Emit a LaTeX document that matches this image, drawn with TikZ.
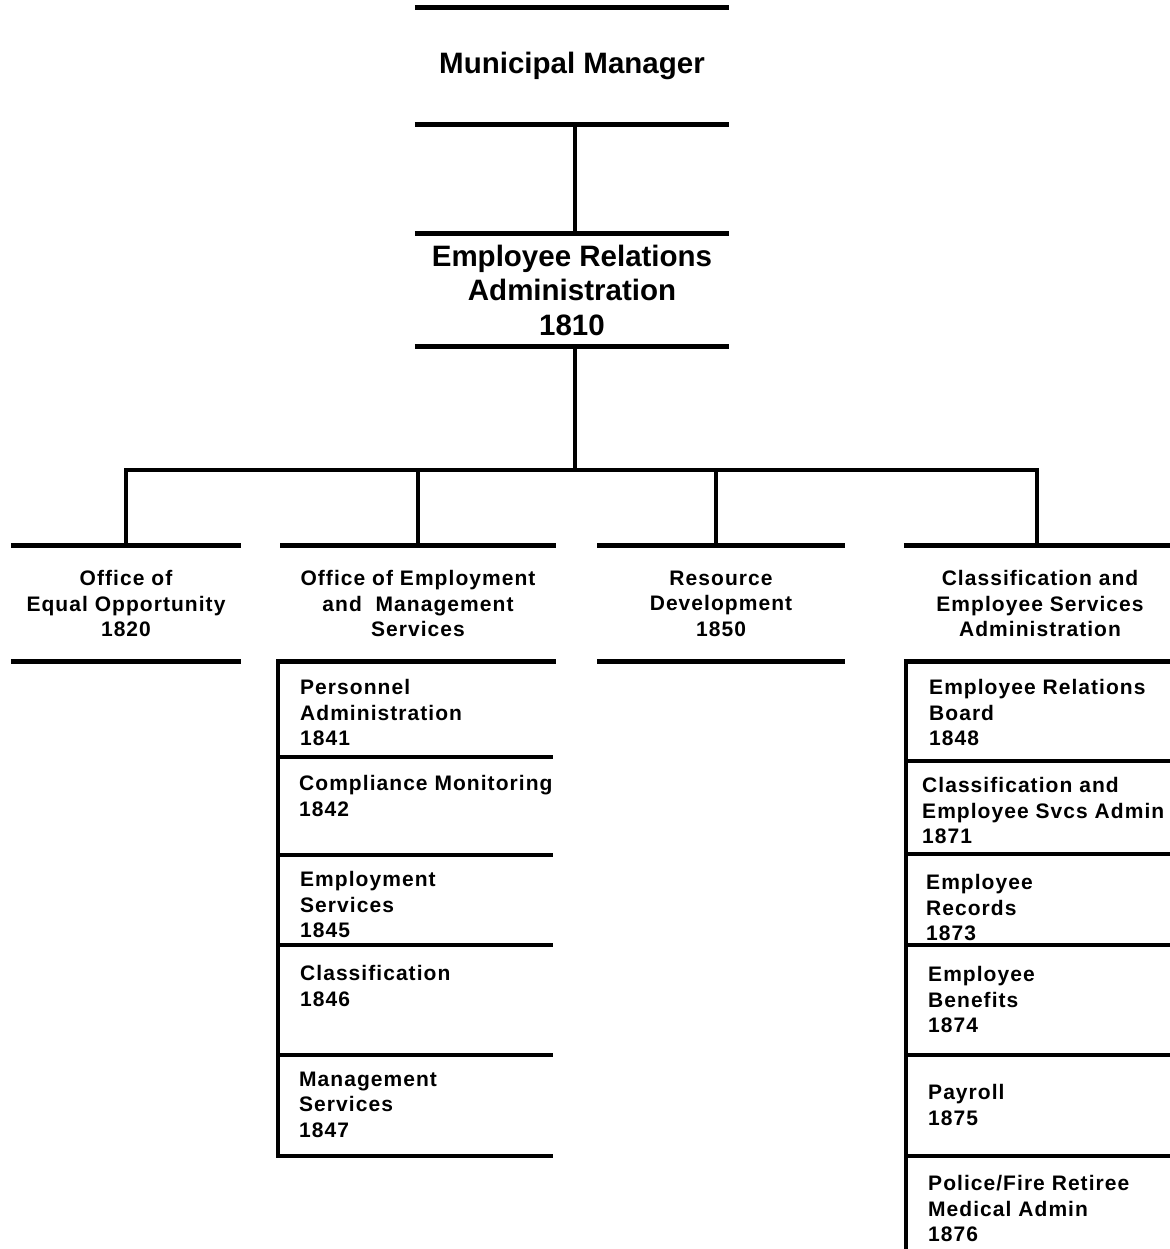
\documentclass[tikz,border=0pt]{standalone}
\usepackage{fontspec}
\setmainfont{Liberation Sans}
\newfontfamily\topfam{Liberation Sans Bold}
\newfontfamily\smallfam{Liberation Sans Bold}[LetterSpace=5]
\newcommand\bigf{\topfam\fontsize{29.5}{34.5}\selectfont}
\newcommand\midf{\smallfam\fontsize{21}{25.5}\selectfont}
\begin{document}
\begin{tikzpicture}[x=1pt,y=-1pt,
  rule/.style={line width=4.8pt},
  conn/.style={line width=4.3pt},
  topbox/.style={minimum width=314, inner sep=0, align=center, font=\bigf},
  box/.style={minimum width=#1, minimum height=115, inner sep=0, align=center, font=\midf},
  item/.style={font=\midf, align=left, anchor=north west, inner sep=0}]
\useasboundingbox (0,0) rectangle (1169,1249);

% top level
\node[topbox, minimum height=116] (mm) at (572,66) {Municipal Manager};
\node[topbox, minimum height=112] (era) at (572,290) {Employee Relations\\Administration\\1810};
\foreach \n in {mm,era}{
  \draw[rule] (\n.north west) -- (\n.north east);
  \draw[rule] (\n.south west) -- (\n.south east);
}
\draw[conn] ([xshift=3]mm.south) -- ([xshift=3]era.north);

% second level
\node[box=230] (oeo) at (126,603.5) {Office of\\Equal Opportunity\\1820};
\node[box=275] (oems) at (418,603.5) {Office of Employment\\and\ \ Management\\Services};
\node[box=247] (rd) at (721,603.5) {Resource\\Development\\1850};
\node[box=272] (cesa) at (1040,603.5) {Classification and\\Employee Services\\Administration};
\foreach \n in {oeo,oems,rd,cesa}{
  \draw[rule] (\n.north west) -- (\n.north east);
  \draw[rule] (\n.south west) -- (\n.south east);
}

% connectors
\coordinate (bus) at (575,470);
\draw[conn] ([xshift=3]era.south) -- (bus);
\draw[rule] (oeo.north) |- (bus) -| ([xshift=-3]cesa.north);
\draw[conn] (oems.north) -- (oems.north |- bus);
\draw[conn] ([xshift=-5]rd.north) -- ([xshift=-5]rd.north |- bus);

% OEMS sub units
\draw[rule] (553,661) -| (278,1156) -- (553,1156);
\foreach \y in {757,855,945,1055}{ \draw[rule] (278,\y) -- (553,\y); }
\node[item] (u1841) at (300,679.5) {Personnel\\Administration\\1841};
\node[item] (u1842) at (299,775.5) {Compliance Monitoring\\1842};
\node[item] (u1845) at (300,871.5) {Employment\\Services\\1845};
\node[item] (u1846) at (300,965.5) {Classification\\1846};
\node[item] (u1847) at (299,1071.5) {Management\\Services\\1847};

% CESA sub units
\draw[rule] (1172,661) -| (906,1252);
\foreach \y in {761,854,945,1055,1156}{ \draw[rule] (906,\y) -- (1172,\y); }
\node[item] (u1848) at (929,679.5) {Employee Relations\\Board\\1848};
\node[item] (u1871) at (922,777.5) {Classification and\\Employee Svcs Admin\\1871};
\node[item] (u1873) at (926,874.5) {Employee\\Records\\1873};
\node[item] (u1874) at (928,966.5) {Employee\\Benefits\\1874};
\node[item] (u1875) at (928,1084.5) {Payroll\\1875};
\node[item] (u1876) at (928,1175.5) {Police/Fire Retiree\\Medical Admin\\1876};
\end{tikzpicture}
\end{document}
